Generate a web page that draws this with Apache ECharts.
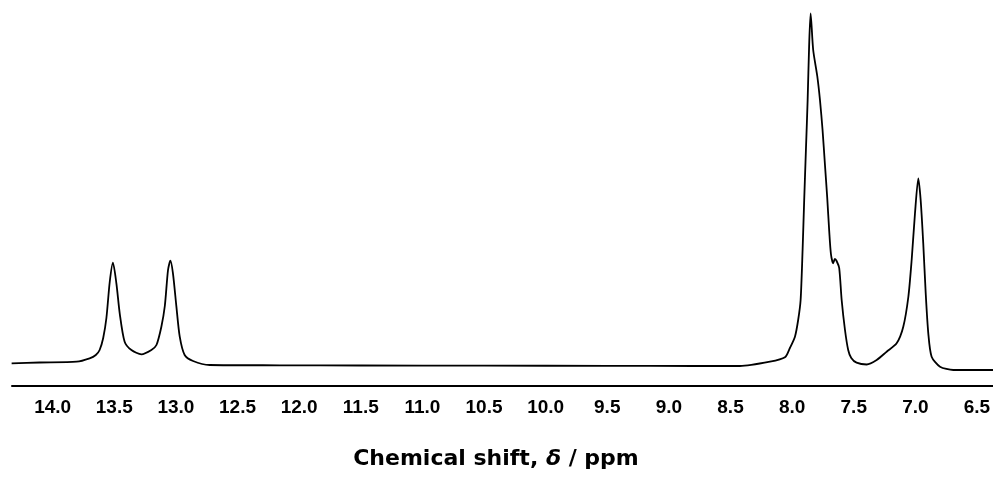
<!DOCTYPE html>
<html>
<head>
<meta charset="utf-8">
<script src="https://cdn.jsdelivr.net/npm/echarts@6/dist/echarts.min.js"></script>
<style>
html,body{margin:0;padding:0;background:#fff;}
#chart{width:993px;height:485px;}
</style>
</head>
<body>
<div id="chart"></div>
<script>
// Chemical shift (ppm) and relative intensity (arbitrary units)
var shiftPpm = [14.333, 14.106, 13.805, 13.700, 13.650, 13.619, 13.590, 13.564, 13.537, 13.511, 13.483, 13.456, 13.416, 13.361, 13.280, 13.199, 13.158, 13.118, 13.090, 13.064, 13.045, 13.024, 12.996, 12.969, 12.929, 12.861, 12.726, 12.157, 11.5, 10.5, 9.5, 8.8, 8.424, 8.180, 8.058, 8.018, 7.977, 7.951, 7.931, 7.915, 7.902, 7.888, 7.874, 7.862, 7.850, 7.829, 7.796, 7.774, 7.753, 7.734, 7.715, 7.699, 7.685, 7.667, 7.653, 7.639, 7.618, 7.598, 7.571, 7.545, 7.520, 7.477, 7.395, 7.314, 7.233, 7.152, 7.098, 7.057, 7.030, 7.003, 6.976, 6.957, 6.936, 6.916, 6.895, 6.868, 6.800, 6.692, 6.370];
var intensity = [22.7, 23.5, 24.3, 27.7, 31, 36, 48, 68, 104, 123.3, 102.7, 72.7, 44.3, 36, 31.7, 36, 41, 59.3, 80, 116, 125.3, 112.7, 79.3, 49.3, 31, 25, 21, 20.7, 20.5, 20.3, 20.2, 20, 20, 24.3, 28.7, 38, 49.3, 66, 86, 136, 186, 236, 286, 340, 372.7, 336, 310, 286, 256, 222, 188, 155, 132, 122.7, 127, 125, 118, 86, 56, 36, 28, 23.3, 21.5, 26, 34.3, 42.7, 59.3, 89, 126, 172.7, 207.7, 186, 142.7, 92.7, 52.7, 29.3, 19.3, 16, 16];
var tickValues = [14.0, 13.5, 13.0, 12.5, 12.0, 11.5, 11.0, 10.5, 10.0, 9.5, 9.0, 8.5, 8.0, 7.5, 7.0, 6.5];
var axisTitle = 'Chemical shift, ';
var axisSymbol = 'δ';
var axisUnit = ' / ppm';

var points = shiftPpm.map(function (x, i) { return [x, intensity[i]]; });

var chart = echarts.init(document.getElementById('chart'), null, {renderer: 'canvas'});
chart.setOption({
  backgroundColor: '#ffffff',
  animation: false,
  grid: {left: 12, right: 0, top: 10, bottom: 99, containLabel: false, outerBoundsMode: 'none'},
  title: {
    text: '{a|' + axisTitle + '}{b|' + axisSymbol + '}{a|' + axisUnit + '}',
    left: 491,
    top: 443,
    textAlign: 'center',
    textStyle: {
      rich: {
        a: {fontFamily: 'DejaVu Sans', fontWeight: 'bold', fontSize: 22, color: '#000'},
        b: {fontFamily: 'DejaVu Sans', fontWeight: 'bold', fontStyle: 'italic', fontSize: 22, color: '#000'}
      }
    }
  },
  xAxis: {
    type: 'value',
    inverse: true,
    min: 6.37,
    max: 14.33,
    axisLine: {show: true, onZero: false, lineStyle: {color: '#000', width: 2}},
    axisTick: {show: false},
    splitLine: {show: false},
    axisLabel: {
      customValues: tickValues,
      margin: 12,
      hideOverlap: false,
      fontFamily: 'Liberation Sans',
      fontWeight: 'bold',
      fontSize: 19,
      color: '#000',
      formatter: function (v) { return v.toFixed(1); }
    }
  },
  yAxis: {
    type: 'value',
    min: 0,
    max: 376,
    show: false,
    splitLine: {show: false}
  },
  series: [{
    type: 'line',
    data: points,
    showSymbol: false,
    smooth: 0.25,
    lineStyle: {color: '#000', width: 1.8},
    silent: true
  }]
});
</script>
</body>
</html>
